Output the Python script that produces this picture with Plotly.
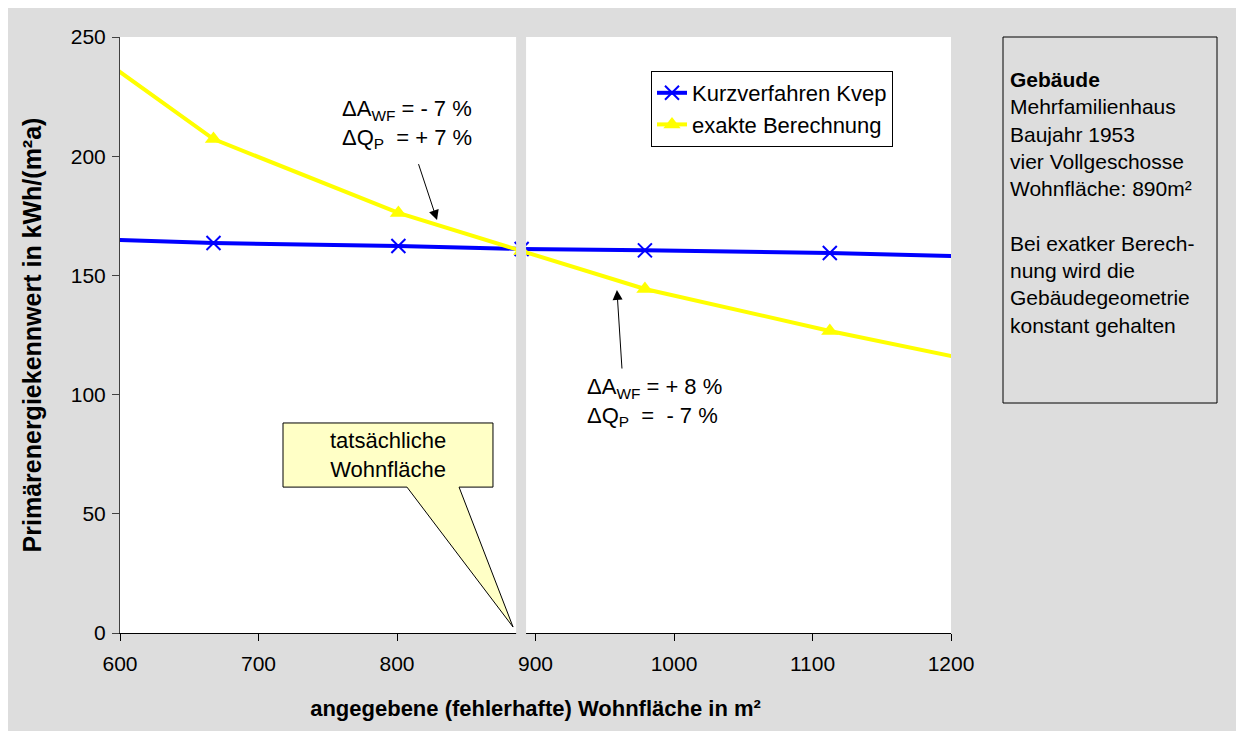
import plotly.graph_objects as go

# angegebene Wohnfläche (Variation um 890 m²), Endpunkte liegen außerhalb der Achse
flaeche = [534, 667.5, 801, 890, 979, 1112.5, 1246]
kurzverfahren = [166.0, 163.6, 162.3, 161.1, 160.5, 159.4, 157.4]
exakt = [262.8, 207.2, 176.2, 160.2, 144.3, 126.7, 110.7]

serien = ['Kurzverfahren Kvep', 'exakte Berechnung']
x_ticks = [600, 700, 800, 900, 1000, 1100, 1200]
y_ticks = [0, 50, 100, 150, 200, 250]
tatsaechlich = 890

info_text = ('<b>Gebäude</b><br>Mehrfamilienhaus<br>Baujahr 1953<br>vier Vollgeschosse'
             '<br>Wohnfläche: 890m²<br> <br>Bei exatker Berech-<br>nung wird die'
             '<br>Gebäudegeometrie<br>konstant gehalten')

FONT = 'Liberation Sans, Arial, sans-serif'
GRAU = '#DDDDDD'

# the page body adds an 8px margin, so the figure is 8px smaller than the window
OFF = 8
W, H = 1244 - OFF, 731 - OFF
# plot area in window pixels: x 120..951, y 37..633
L, R, T, B = 120, 951, 37, 633


def px_x(p):
    return (p - L) / (R - L)


def px_y(p):
    return (B - p) / (B - T)


fig = go.Figure()

fig.add_trace(go.Scatter(
    x=flaeche, y=kurzverfahren, name=serien[0], mode='lines+markers',
    line={'color': '#0000FF', 'width': 4},
    marker={'symbol': 'x-thin', 'size': 14, 'line': {'color': '#0000FF', 'width': 2}},
))
fig.add_trace(go.Scatter(
    x=flaeche, y=exakt, name=serien[1], mode='lines+markers',
    line={'color': '#FFFF00', 'width': 4},
    marker={'symbol': 'triangle-up', 'size': 15, 'color': '#FFFF00'},
))

# Sprechblase "tatsächliche Wohnfläche" (in Datenkoordinaten)
blase = 'M 717.7 88.1 L 869.3 88.1 L 869.3 61.2 L 844.8 61.2 L 883.8 2.5 L 807.2 61.2 L 717.7 61.2 Z'

shapes = [
    # weiße Zeichenfläche
    {'type': 'rect', 'xref': 'paper', 'yref': 'paper', 'layer': 'below',
     'x0': 0, 'x1': 1, 'y0': 0, 'y1': 1, 'fillcolor': 'white', 'line': {'width': 0}},
    # Info-Kasten rechts
    {'type': 'rect', 'xref': 'paper', 'yref': 'paper',
     'x0': px_x(1003), 'x1': px_x(1217), 'y0': px_y(403), 'y1': px_y(37),
     'line': {'color': 'black', 'width': 1}},
    {'type': 'path', 'xref': 'x', 'yref': 'y', 'path': blase, 'layer': 'above',
     'fillcolor': '#FFFFC6', 'line': {'color': 'black', 'width': 1}},
    # grauer Balken bei der tatsächlichen Wohnfläche
    {'type': 'rect', 'xref': 'x', 'yref': 'paper', 'layer': 'above',
     'x0': tatsaechlich - 4, 'x1': tatsaechlich + 3.2, 'y0': -0.012, 'y1': 1,
     'fillcolor': GRAU, 'line': {'width': 0}},
]

nbsp = '\u00a0'
annotations = [
    {'x': 758.8, 'y': 213.7, 'xref': 'x', 'yref': 'y', 'xanchor': 'left', 'yanchor': 'middle',
     'align': 'left', 'showarrow': False,
     'text': f'ΔA<sub>WF</sub> = - 7 %<br>ΔQ<sub>P</sub>{nbsp}{nbsp}= + 7 %'},
    {'x': 935.7, 'y': 97.1, 'xref': 'x', 'yref': 'y', 'xanchor': 'left', 'yanchor': 'middle',
     'align': 'left', 'showarrow': False,
     'text': f'ΔA<sub>WF</sub> = + 8 %<br>ΔQ<sub>P</sub>{nbsp}{nbsp}={nbsp}{nbsp}- 7 %'},
    {'x': 828.9, 'y': 173.2, 'ax': 815.2, 'ay': 197.3, 'xref': 'x', 'yref': 'y',
     'axref': 'x', 'ayref': 'y', 'text': '', 'showarrow': True,
     'arrowhead': 2, 'arrowsize': 2, 'arrowwidth': 1, 'arrowcolor': 'black'},
    {'x': 958.8, 'y': 143.9, 'ax': 962.5, 'ay': 110.3, 'xref': 'x', 'yref': 'y',
     'axref': 'x', 'ayref': 'y', 'text': '', 'showarrow': True,
     'arrowhead': 2, 'arrowsize': 2, 'arrowwidth': 1, 'arrowcolor': 'black'},
    {'x': 793.5, 'y': 74.7, 'xref': 'x', 'yref': 'y', 'showarrow': False,
     'text': 'tatsächliche<br>Wohnfläche', 'align': 'center'},
    {'x': px_x(1008), 'y': px_y(66), 'xref': 'paper', 'yref': 'paper',
     'xanchor': 'left', 'yanchor': 'top', 'align': 'left', 'showarrow': False,
     'text': info_text, 'font': {'size': 21}},
]

fig.update_layout(
    width=W, height=H,
    margin={'l': L - OFF, 'r': 1244 - R, 't': T - OFF, 'b': 731 - B, 'pad': 0},
    paper_bgcolor=GRAU,
    plot_bgcolor='rgba(0,0,0,0)',
    font={'family': FONT, 'size': 22, 'color': 'black'},
    showlegend=True,
    legend={
        'x': px_x(651), 'y': px_y(71), 'xanchor': 'left', 'yanchor': 'top',
        'bgcolor': 'white', 'bordercolor': 'black', 'borderwidth': 1,
        'font': {'size': 22}, 'tracegroupgap': 0,
    },
    xaxis={
        'range': [600, 1200], 'tickvals': x_ticks, 'ticks': 'outside', 'ticklen': 7,
        'tickcolor': 'black', 'showline': True, 'linecolor': 'black', 'linewidth': 1,
        'showgrid': False, 'zeroline': False, 'tickfont': {'size': 21},
        'ticklabelstandoff': 5,
        'title': {'text': '<b>angegebene (fehlerhafte) Wohnfläche in m²</b>',
                  'font': {'size': 22}, 'standoff': 26},
    },
    yaxis={
        'range': [0, 250], 'tickvals': y_ticks, 'ticks': 'outside', 'ticklen': 7,
        'tickcolor': '#404040', 'showline': True, 'linecolor': '#404040', 'linewidth': 1,
        'showgrid': False, 'zeroline': False, 'tickfont': {'size': 21},
        'ticklabelstandoff': 2,
        'title': {'text': '<b>Primärenergiekennwert in kWh/(m²a)</b>',
                  'font': {'size': 25}, 'standoff': 22},
    },
    shapes=shapes,
    annotations=annotations,
    hovermode=False,
)

fig.write_html('out.html')
